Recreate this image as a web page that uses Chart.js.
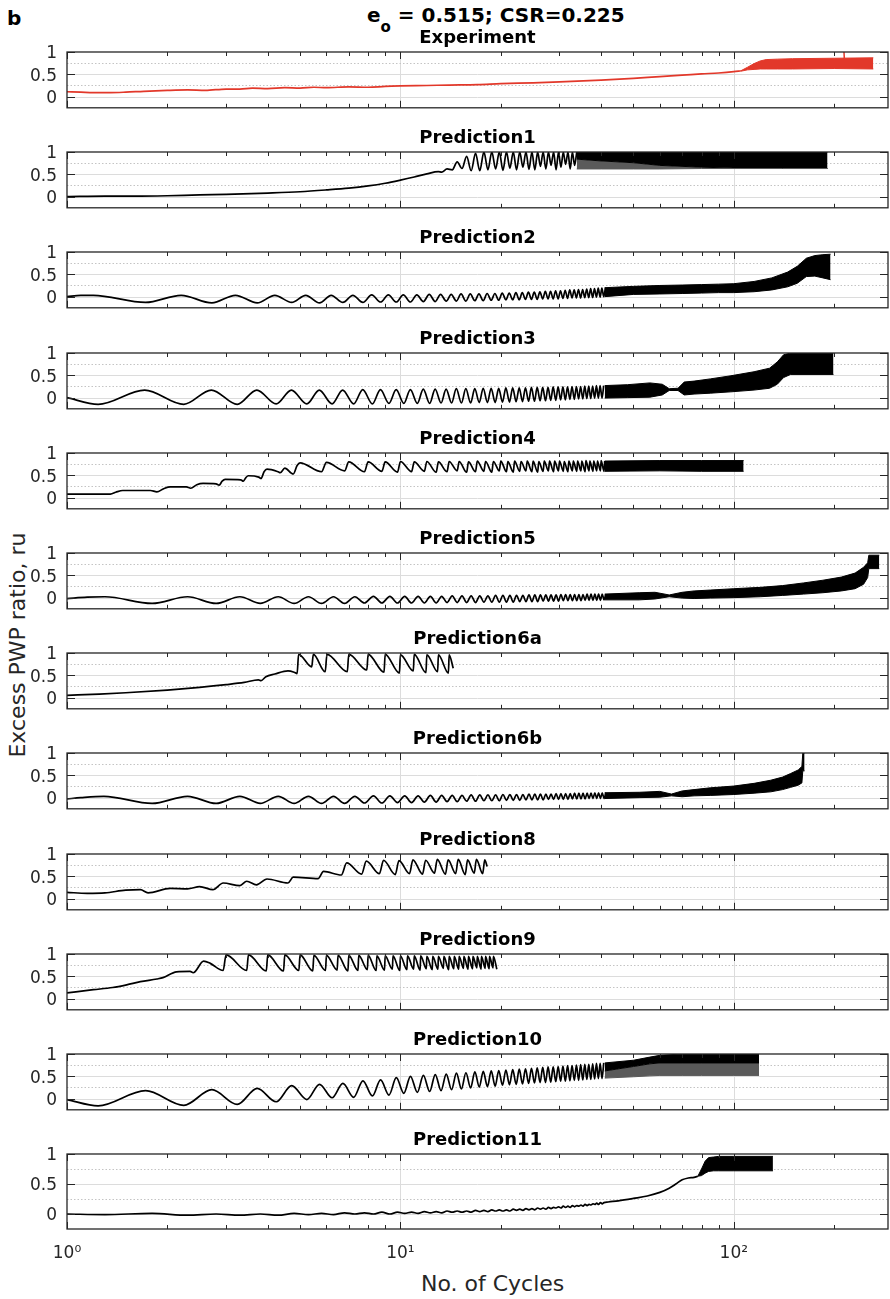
<!DOCTYPE html>
<html>
<head>
<meta charset="utf-8">
<title>Excess PWP ratio - experiment and predictions</title>
<script src="https://cdn.jsdelivr.net/npm/chart.js@4.4.1/dist/chart.umd.min.js"></script>
<style>
  body { margin: 0; background: #fff; }
  #figure {
    position: relative;
    width: 890px;
    height: 1299px;
    overflow: hidden;
    font-family: "DejaVu Sans", sans-serif;
    color: #000;
  }
  #figure canvas { position: absolute; left: 0; }
  .label { position: absolute; white-space: nowrap; line-height: 20px; }
  #panel-letter { left: 7px; top: 8px; font-size: 20px; font-weight: bold; }
  #main-title { left: 367px; top: 5px; font-size: 20px; font-weight: bold; }
  #main-title .sub { font-size: 15px; position: relative; top: 10px; }
  #y-label {
    left: -182px; top: 635px; width: 400px; text-align: center;
    font-size: 22px; color: #262626; transform: rotate(-90deg);
  }
  #x-label { left: 421px; top: 1274px; font-size: 22px; color: #262626; }
</style>
</head>
<body>
<div id="figure">
  <div class="label" id="panel-letter">b</div>
  <div class="label" id="main-title">e<span class="sub">o</span> = 0.515; CSR=0.225</div>
  <div class="label" id="y-label">Excess PWP ratio, ru</div>
  <div class="label" id="x-label">No. of Cycles</div>
</div>
<script>
// Axis settings shared by every panel
const xMax = 290;
const yMin = -0.25;
const yMax = 1;
const xTickValues = [1, 10, 100];
const xTickLabels = ["10\u2070", "10\u00b9", "10\u00b2"];
const yTickValues = [0, 0.5, 1];
const yMinorValues = [0.25, 0.75];

const panelTitles = [
  "Experiment", "Prediction1", "Prediction2", "Prediction3", "Prediction4",
  "Prediction5", "Prediction6a", "Prediction6b", "Prediction8",
  "Prediction9", "Prediction10", "Prediction11",
];

// Experiment (measured ru)
const expTrendX = [1, 1.1, 1.2, 1.35, 1.5, 1.7, 2, 2.3, 2.6, 3, 3.3, 3.6, 4, 4.5, 5, 5.5, 6, 7, 8, 9, 10, 12, 14, 17, 20, 25, 30, 40, 50, 60, 70, 80, 90, 100, 105];
const expTrendY = [0.11, 0.1, 0.09, 0.09, 0.1, 0.12, 0.14, 0.15, 0.14, 0.17, 0.17, 0.19, 0.18, 0.2, 0.19, 0.21, 0.2, 0.22, 0.21, 0.23, 0.24, 0.25, 0.26, 0.27, 0.29, 0.31, 0.33, 0.37, 0.41, 0.45, 0.48, 0.51, 0.53, 0.56, 0.58];
const expBandX = [105, 110, 115, 120, 125, 135, 150, 200, 262];
const expBandLo = [0.57, 0.6, 0.61, 0.62, 0.62, 0.62, 0.62, 0.63, 0.62];
const expBandHi = [0.58, 0.66, 0.74, 0.8, 0.83, 0.84, 0.85, 0.86, 0.87];
const expSpikeX = [213, 214, 215];
const expSpikeY = [0.85, 1.0, 0.85];

// Prediction1
const p1TrendX = [1, 1.3, 1.6, 2, 2.5, 3, 4, 5, 6, 7, 8, 9, 10, 11, 12, 13];
const p1TrendY = [0, 0.01, 0.01, 0.02, 0.04, 0.05, 0.08, 0.11, 0.15, 0.19, 0.24, 0.3, 0.37, 0.44, 0.51, 0.56];
const p1Trough = [0.55, 0.6, 0.63, 0.58, 0.58, 0.6, 0.62, 0.59, 0.64, 0.6, 0.66, 0.61, 0.6, 0.68, 0.62, 0.7, 0.6, 0.66, 0.72, 0.62, 0.7];
const p1Peak = [0.62, 0.78, 0.9, 0.97, 1, 1, 1, 1, 1, 1, 1, 1, 1, 1, 1, 1, 1, 1, 1, 1, 1];
const p1BandX = [33.8, 40, 50, 60, 80, 100, 140, 191];
const p1BandLo = [0.62, 0.62, 0.62, 0.62, 0.63, 0.63, 0.63, 0.63];
const p1BandMid = [0.84, 0.8, 0.76, 0.7, 0.66, 0.64, 0.63, 0.63];
const p1BandHi = [1, 1, 1, 1, 1, 1, 1, 1];

// Prediction2
const p2TrendX = [1, 1.1, 1.2];
const p2TrendY = [0, 0.03, 0.03];
const p2Trough = [-0.13, -0.14, -0.14, -0.13, -0.14, -0.13, -0.13, -0.12, -0.12, -0.12, -0.11, -0.11, -0.1, -0.1, -0.1, -0.09, -0.09, -0.08, -0.08, -0.07, -0.07, -0.07, -0.06, -0.06, -0.06, -0.05, -0.05, -0.05, -0.05, -0.04, -0.04, -0.03, -0.03, -0.03, -0.02, -0.02, -0.02, -0.01, -0.01, 0];
const p2Peak = [0.03, 0.03, 0.03, 0.03, 0.03, 0.03, 0.04, 0.04, 0.04, 0.04, 0.05, 0.05, 0.05, 0.06, 0.06, 0.06, 0.07, 0.07, 0.08, 0.08, 0.09, 0.09, 0.1, 0.1, 0.11, 0.12, 0.12, 0.13, 0.13, 0.14, 0.15, 0.15, 0.16, 0.16, 0.17, 0.18, 0.18, 0.19, 0.19, 0.2];
const p2BandX = [41, 50, 60, 70, 80, 90, 100, 115, 130, 145, 155, 165, 175, 185, 195];
const p2BandLo = [0, 0.05, 0.06, 0.07, 0.08, 0.09, 0.09, 0.11, 0.15, 0.22, 0.3, 0.45, 0.46, 0.42, 0.38];
const p2BandHi = [0.2, 0.23, 0.25, 0.26, 0.27, 0.28, 0.29, 0.34, 0.42, 0.55, 0.68, 0.86, 0.92, 0.94, 0.95];

// Prediction3
const p3TrendX = [1];
const p3TrendY = [0];
const p3Trough = [-0.15, -0.15, -0.15, -0.14, -0.14, -0.14, -0.14, -0.14, -0.13, -0.13, -0.13, -0.13, -0.12, -0.12, -0.12, -0.12, -0.11, -0.11, -0.11, -0.1, -0.1, -0.09, -0.09, -0.08, -0.08, -0.07, -0.07, -0.06, -0.06, -0.05, -0.05, -0.04, -0.04, -0.03, -0.03, -0.02, -0.02, -0.01, -0.01, -0.01];
const p3Peak = [0.17, 0.17, 0.17, 0.17, 0.17, 0.17, 0.18, 0.18, 0.18, 0.18, 0.19, 0.19, 0.19, 0.2, 0.2, 0.2, 0.21, 0.21, 0.21, 0.22, 0.22, 0.22, 0.22, 0.23, 0.23, 0.23, 0.23, 0.24, 0.24, 0.24, 0.24, 0.25, 0.25, 0.25, 0.26, 0.26, 0.26, 0.27, 0.27, 0.27];
const p3BandX = [41, 48, 56, 61, 64, 68, 71, 76, 85, 98, 115, 128, 135, 141, 148, 199];
const p3BandLo = [-0.01, 0, 0.01, 0.06, 0.16, 0.16, 0.06, 0.08, 0.1, 0.13, 0.17, 0.21, 0.3, 0.45, 0.52, 0.52];
const p3BandHi = [0.27, 0.29, 0.33, 0.3, 0.2, 0.21, 0.35, 0.37, 0.42, 0.49, 0.58, 0.66, 0.8, 0.96, 1, 1];

// Prediction4 (stepwise build-up, then sawtooth)
const p4TrendX = [1, 1.35, 1.4, 1.47, 1.78, 1.86, 1.95, 2.04, 2.28, 2.35, 2.45, 2.56, 2.8, 2.86, 2.92, 2.98, 3.32, 3.38, 3.44, 3.5, 3.76, 3.82, 3.9, 3.98, 4.3, 4.36, 4.5, 4.77, 4.9, 5];
const p4TrendY = [0.08, 0.08, 0.12, 0.16, 0.16, 0.13, 0.2, 0.24, 0.24, 0.21, 0.29, 0.32, 0.31, 0.28, 0.37, 0.41, 0.4, 0.37, 0.45, 0.49, 0.46, 0.43, 0.58, 0.64, 0.58, 0.56, 0.66, 0.53, 0.72, 0.78];
const p4Trough = [0.58, 0.6, 0.58, 0.59, 0.57, 0.58, 0.59, 0.57, 0.58, 0.6, 0.57, 0.58, 0.59, 0.57, 0.6, 0.58, 0.57, 0.59, 0.6, 0.58, 0.57, 0.59, 0.6, 0.58, 0.6, 0.59, 0.58, 0.6, 0.59, 0.6, 0.58, 0.6, 0.59, 0.6, 0.6, 0.59];
const p4Peak = [0.79, 0.8, 0.8, 0.8, 0.81, 0.8, 0.81, 0.8, 0.81, 0.81, 0.8, 0.82, 0.81, 0.81, 0.82, 0.81, 0.82, 0.81, 0.82, 0.82, 0.81, 0.82, 0.82, 0.82, 0.82, 0.81, 0.82, 0.82, 0.82, 0.82, 0.83, 0.82, 0.82, 0.82, 0.83, 0.82];
const p4BandX = [41, 60, 80, 107];
const p4BandLo = [0.59, 0.6, 0.59, 0.59];
const p4BandHi = [0.82, 0.83, 0.83, 0.83];

// Prediction5
const p5TrendX = [1, 1.15, 1.3];
const p5TrendY = [-0.02, 0.01, 0.02];
const p5Trough = [-0.13, -0.13, -0.13, -0.13, -0.13, -0.13, -0.12, -0.12, -0.12, -0.12, -0.12, -0.12, -0.11, -0.11, -0.11, -0.11, -0.1, -0.1, -0.1, -0.1, -0.1, -0.09, -0.09, -0.09, -0.09, -0.08, -0.08, -0.08, -0.08, -0.07, -0.07, -0.07, -0.07, -0.07, -0.06, -0.06, -0.06, -0.06, -0.06, -0.05];
const p5Peak = [0.02, 0.02, 0.02, 0.02, 0.02, 0.02, 0.03, 0.03, 0.03, 0.03, 0.03, 0.03, 0.04, 0.04, 0.04, 0.04, 0.04, 0.05, 0.05, 0.05, 0.05, 0.05, 0.06, 0.06, 0.06, 0.06, 0.06, 0.06, 0.07, 0.07, 0.07, 0.07, 0.07, 0.07, 0.08, 0.08, 0.08, 0.08, 0.08, 0.08];
const p5BandX = [41, 52, 58, 64, 70, 76, 85, 100, 120, 140, 162, 185, 210, 231, 245, 252, 254, 273];
const p5BandLo = [-0.05, -0.05, -0.03, 0.02, -0.01, -0.02, -0.01, 0, 0.02, 0.05, 0.08, 0.11, 0.15, 0.2, 0.3, 0.45, 0.65, 0.65];
const p5BandHi = [0.08, 0.11, 0.12, 0.06, 0.12, 0.15, 0.17, 0.2, 0.23, 0.27, 0.33, 0.39, 0.46, 0.55, 0.68, 0.78, 0.95, 0.95];

// Prediction6a
const p6aTrendX = [1, 1.25, 1.5, 2, 2.5, 3, 3.4, 3.75, 3.82, 3.95, 4.2, 4.6, 4.8, 4.9, 4.95, 5.42, 5.48, 5.95, 6.02];
const p6aTrendY = [0.05, 0.08, 0.11, 0.17, 0.23, 0.29, 0.34, 0.4, 0.38, 0.47, 0.53, 0.6, 0.57, 0.54, 0.97, 0.69, 0.97, 0.58, 0.97];
const p6aTrough = [0.58, 0.62, 0.57, 0.55, 0.6, 0.56, 0.58, 0.55];
const p6aPeak = [0.97, 0.97, 0.97, 0.96, 0.97, 0.96, 0.96, 0.96];
const p6aTailX = [14.4];
const p6aTailY = [0.66];

// Prediction6b
const p6bTrendX = [1, 1.1, 1.29];
const p6bTrendY = [-0.03, 0, 0.03];
const p6bTrough = [-0.13, -0.13, -0.13, -0.13, -0.13, -0.13, -0.12, -0.12, -0.11, -0.11, -0.1, -0.1, -0.09, -0.09, -0.08, -0.08, -0.07, -0.07, -0.07, -0.06, -0.06, -0.06, -0.05, -0.05, -0.05, -0.05, -0.04, -0.04, -0.04, -0.04, -0.04, -0.03, -0.03, -0.03, -0.03, -0.02, -0.02, -0.02, -0.02, -0.02];
const p6bPeak = [0.03, 0.03, 0.03, 0.03, 0.03, 0.03, 0.04, 0.04, 0.04, 0.04, 0.05, 0.05, 0.05, 0.05, 0.06, 0.06, 0.06, 0.06, 0.07, 0.07, 0.07, 0.07, 0.08, 0.08, 0.08, 0.08, 0.08, 0.09, 0.09, 0.09, 0.09, 0.1, 0.1, 0.1, 0.1, 0.1, 0.11, 0.11, 0.11, 0.11];
const p6bBandX = [41, 52, 60, 65, 70, 76, 85, 100, 115, 129, 140, 148, 156, 160, 161, 163];
const p6bBandLo = [-0.02, 0, 0.01, 0.04, 0.02, 0.04, 0.05, 0.07, 0.1, 0.13, 0.18, 0.23, 0.28, 0.33, 0.6, 0.6];
const p6bBandHi = [0.11, 0.12, 0.14, 0.08, 0.15, 0.18, 0.22, 0.26, 0.32, 0.39, 0.46, 0.54, 0.62, 0.7, 1, 1];

// Prediction8
const p8TrendX = [1, 1.15, 1.3, 1.5, 1.66, 1.75, 2.04, 2.3, 2.5, 2.74, 2.94, 3.3, 3.46, 3.7, 3.98, 4.6, 4.77, 5.67, 5.88, 6.65, 6.9];
const p8TrendY = [0.14, 0.12, 0.13, 0.19, 0.2, 0.13, 0.23, 0.22, 0.27, 0.2, 0.35, 0.29, 0.39, 0.31, 0.44, 0.35, 0.48, 0.45, 0.61, 0.53, 0.8];
const p8Trough = [0.55, 0.56, 0.54, 0.56, 0.55, 0.57, 0.55, 0.56, 0.54, 0.57, 0.56];
const p8Peak = [0.84, 0.86, 0.85, 0.87, 0.86, 0.88, 0.87, 0.88, 0.87, 0.88, 0.87];
const p8TailX = [18.2];
const p8TailY = [0.72];

// Prediction9 (two teeth per cycle)
const p9TrendX = [1, 1.2, 1.37, 1.51, 1.66, 1.86, 1.94, 2.13, 2.34, 2.39, 2.57, 2.69, 2.94];
const p9TrendY = [0.13, 0.2, 0.25, 0.31, 0.38, 0.44, 0.47, 0.6, 0.61, 0.58, 0.84, 0.79, 0.63];
const p9Peak = [0.98, 0.98, 0.98, 0.98, 0.98, 0.97, 0.97, 0.97, 0.97, 0.97, 0.97, 0.96, 0.96, 0.96, 0.96, 0.96, 0.96, 0.96, 0.95, 0.95, 0.95, 0.95, 0.95, 0.95, 0.95, 0.95, 0.95, 0.95, 0.95, 0.95, 0.95, 0.95, 0.95];
const p9Trough = [0.63, 0.62, 0.62, 0.63, 0.62, 0.63, 0.64, 0.62, 0.63, 0.65, 0.63, 0.64, 0.66, 0.63, 0.65, 0.66, 0.64, 0.67, 0.65, 0.66, 0.68, 0.65, 0.67, 0.66, 0.68, 0.66, 0.67, 0.69, 0.66, 0.68, 0.67, 0.69, 0.66];

// Prediction10
const p10TrendX = [1];
const p10TrendY = [-0.02];
const p10Trough = [-0.16, -0.15, -0.13, -0.07, -0.02, 0.02, 0.03, 0.06, 0.08, 0.12, 0.14, 0.16, 0.18, 0.2, 0.22, 0.24, 0.26, 0.27, 0.28, 0.3, 0.31, 0.32, 0.33, 0.34, 0.35, 0.36, 0.36, 0.37, 0.38, 0.39, 0.39, 0.4, 0.41, 0.41, 0.42, 0.43, 0.43, 0.44, 0.45, 0.45];
const p10Peak = [0.18, 0.2, 0.23, 0.29, 0.32, 0.34, 0.4, 0.42, 0.47, 0.5, 0.52, 0.54, 0.55, 0.57, 0.58, 0.6, 0.61, 0.62, 0.63, 0.64, 0.65, 0.66, 0.67, 0.68, 0.69, 0.7, 0.71, 0.71, 0.72, 0.73, 0.74, 0.74, 0.75, 0.76, 0.77, 0.77, 0.78, 0.79, 0.79, 0.8];
const p10BandX = [41, 50, 56, 60, 70, 80, 100, 119];
const p10BandLo = [0.46, 0.49, 0.51, 0.52, 0.52, 0.52, 0.52, 0.52];
const p10BandMid = [0.62, 0.72, 0.78, 0.8, 0.8, 0.8, 0.8, 0.8];
const p10BandHi = [0.8, 0.86, 0.93, 0.97, 1, 1, 1, 1];

// Prediction11
const p11TrendX = [1];
const p11TrendY = [0];
const p11Trough = [-0.01, -0.02, -0.02, -0.02, -0.01, -0.01, 0, 0, 0, 0.01, 0.01, 0.02, 0.02, 0.03, 0.03, 0.03, 0.04, 0.04, 0.05, 0.05, 0.05, 0.06, 0.06, 0.07, 0.07, 0.08, 0.08, 0.09, 0.1, 0.1, 0.11, 0.11, 0.12, 0.13, 0.13, 0.14, 0.15, 0.16, 0.16, 0.17];
const p11Peak = [0.01, 0, 0, 0.01, 0.01, 0.02, 0.02, 0.03, 0.03, 0.03, 0.04, 0.04, 0.05, 0.05, 0.05, 0.06, 0.06, 0.07, 0.07, 0.07, 0.08, 0.08, 0.09, 0.09, 0.1, 0.1, 0.11, 0.11, 0.12, 0.13, 0.13, 0.14, 0.14, 0.15, 0.16, 0.16, 0.17, 0.18, 0.19, 0.19];
const p11TailX = [42, 45, 50, 55, 60, 64, 67, 70, 73, 76, 78];
const p11TailY = [0.2, 0.22, 0.26, 0.3, 0.36, 0.43, 0.5, 0.57, 0.6, 0.61, 0.63];
const p11BandX = [78, 80, 82, 84, 87, 90, 100, 131];
const p11BandLo = [0.63, 0.64, 0.68, 0.71, 0.72, 0.72, 0.72, 0.72];
const p11BandHi = [0.63, 0.75, 0.88, 0.94, 0.95, 0.96, 0.96, 0.96];

// Colours
const expColor = "#e2382a";
const predColor = "#000000";
const looseColor = "#5a5a5a"; // partly filled area where single cycles still show
const axisColor = "#262626";
const FONT = "'DejaVu Sans', sans-serif";

// Helpers to turn the arrays into {x, y} points
function pairs(xs, ys) {
  return xs.map(function (x, i) {
    return { x: x, y: ys[i] };
  });
}

// one trough and one peak per loading cycle (or per half cycle)
function cycleSeries(first, troughPhase, peakPhase, troughs, peaks, period) {
  const step = period || 1;
  const pts = [];
  troughs.forEach(function (t, i) {
    const c = first + i * step;
    pts.push({ x: c + troughPhase, y: t });
    pts.push({ x: c + peakPhase, y: peaks[i] });
  });
  return pts.sort(function (a, b) {
    return a.x - b.x;
  });
}

const panels = [
  {
    color: expColor,
    line: pairs(expTrendX, expTrendY),
    band: { x: expBandX, lo: expBandLo, hi: expBandHi },
    extra: pairs(expSpikeX, expSpikeY),
  },
  {
    line: pairs(p1TrendX, p1TrendY).concat(cycleSeries(13, 0.3, 0.8, p1Trough, p1Peak)),
    band: { x: p1BandX, lo: p1BandLo, mid: p1BandMid, hi: p1BandHi },
  },
  {
    line: pairs(p2TrendX, p2TrendY).concat(cycleSeries(1, 0.72, 1.2, p2Trough, p2Peak)),
    band: { x: p2BandX, lo: p2BandLo, hi: p2BandHi },
  },
  {
    line: pairs(p3TrendX, p3TrendY).concat(cycleSeries(1, 0.24, 0.71, p3Trough, p3Peak)),
    band: { x: p3BandX, lo: p3BandLo, hi: p3BandHi },
  },
  {
    line: pairs(p4TrendX, p4TrendY).concat(cycleSeries(5, 0.8, 1.0, p4Trough, p4Peak)),
    band: { x: p4BandX, lo: p4BandLo, hi: p4BandHi },
  },
  {
    line: pairs(p5TrendX, p5TrendY).concat(cycleSeries(1, 0.8, 1.3, p5Trough, p5Peak)),
    band: { x: p5BandX, lo: p5BandLo, hi: p5BandHi },
  },
  {
    line: pairs(p6aTrendX, p6aTrendY)
      .concat(cycleSeries(6, 0.93, 1.0, p6aTrough, p6aPeak))
      .concat(pairs(p6aTailX, p6aTailY)),
  },
  {
    line: pairs(p6bTrendX, p6bTrendY).concat(cycleSeries(1, 0.8, 1.3, p6bTrough, p6bPeak)),
    band: { x: p6bBandX, lo: p6bBandLo, hi: p6bBandHi },
  },
  {
    line: pairs(p8TrendX, p8TrendY)
      .concat(cycleSeries(7, 0.65, 0.9, p8Trough, p8Peak))
      .concat(pairs(p8TailX, p8TailY)),
  },
  {
    line: pairs(p9TrendX, p9TrendY).concat(cycleSeries(3, 0.46, 0, p9Trough, p9Peak, 0.5)),
  },
  {
    line: pairs(p10TrendX, p10TrendY).concat(cycleSeries(1, 0.24, 0.72, p10Trough, p10Peak)),
    band: { x: p10BandX, lo: p10BandLo, mid: p10BandMid, hi: p10BandHi },
  },
  {
    line: pairs(p11TrendX, p11TrendY)
      .concat(cycleSeries(1, 0.3, 0.8, p11Trough, p11Peak))
      .concat(pairs(p11TailX, p11TailY)),
    band: { x: p11BandX, lo: p11BandLo, hi: p11BandHi },
  },
];

// Grid, box and inward ticks in the MATLAB style
function strokeLine(ctx, x1, y1, x2, y2) {
  ctx.beginPath();
  ctx.moveTo(x1, y1);
  ctx.lineTo(x2, y2);
  ctx.stroke();
}

function minorXValues() {
  const out = [];
  xTickValues.forEach(function (d) {
    for (let m = 2; m <= 9; m++) {
      if (d * m < xMax) out.push(d * m);
    }
  });
  return out;
}

const matlabAxes = {
  id: "matlabAxes",
  beforeDatasetsDraw: function (chart) {
    const ctx = chart.ctx;
    const a = chart.chartArea;
    const sx = chart.scales.x;
    const sy = chart.scales.y;
    ctx.save();
    ctx.lineWidth = 1;
    ctx.strokeStyle = "#dcdcdc";
    xTickValues.forEach(function (v) {
      const px = Math.round(sx.getPixelForValue(v)) + 0.5;
      if (px > a.left + 2) strokeLine(ctx, px, a.top, px, a.bottom);
    });
    yTickValues.forEach(function (v) {
      const py = Math.round(sy.getPixelForValue(v)) + 0.5;
      if (py > a.top + 2) strokeLine(ctx, a.left, py, a.right, py);
    });
    ctx.setLineDash([1.5, 2]);
    ctx.strokeStyle = "#c4c4c4";
    yMinorValues.forEach(function (v) {
      const py = Math.round(sy.getPixelForValue(v)) + 0.5;
      strokeLine(ctx, a.left, py, a.right, py);
    });
    ctx.restore();
  },
  afterDatasetsDraw: function (chart) {
    const ctx = chart.ctx;
    const a = chart.chartArea;
    const sx = chart.scales.x;
    const sy = chart.scales.y;
    ctx.save();
    ctx.strokeStyle = axisColor;
    ctx.lineWidth = 1.3;
    ctx.strokeRect(a.left, a.top, a.right - a.left, a.bottom - a.top);
    ctx.lineWidth = 1;
    xTickValues.forEach(function (v) {
      const px = Math.round(sx.getPixelForValue(v)) + 0.5;
      strokeLine(ctx, px, a.top, px, a.top + 7);
      strokeLine(ctx, px, a.bottom, px, a.bottom - 7);
    });
    minorXValues().forEach(function (v) {
      const px = Math.round(sx.getPixelForValue(v)) + 0.5;
      strokeLine(ctx, px, a.top, px, a.top + 4);
      strokeLine(ctx, px, a.bottom, px, a.bottom - 4);
    });
    yTickValues.forEach(function (v) {
      const py = Math.round(sy.getPixelForValue(v)) + 0.5;
      strokeLine(ctx, a.left, py, a.left + 8, py);
      strokeLine(ctx, a.right, py, a.right - 8, py);
    });
    ctx.restore();
  },
};

function bandDatasets(band, color) {
  const sets = [];
  sets.push({
    data: pairs(band.x, band.lo),
    borderColor: band.mid ? looseColor : color,
    borderWidth: 1,
    fill: false,
  });
  if (band.mid) {
    sets.push({
      data: pairs(band.x, band.mid),
      borderColor: color,
      borderWidth: 1,
      backgroundColor: looseColor,
      fill: "-1",
    });
  }
  sets.push({
    data: pairs(band.x, band.hi),
    borderColor: color,
    borderWidth: 1,
    backgroundColor: color,
    fill: "-1",
  });
  return sets;
}

Chart.defaults.font.family = FONT;
Chart.defaults.elements.point.radius = 0;

const figure = document.getElementById("figure");
const TITLE_H = 25;
const BOX_H = 75;
const AXIS_H = 50;

panels.forEach(function (panel, k) {
  const isLast = k === panels.length - 1;
  const color = panel.color || predColor;
  const boxTop = Math.round(52 + 100.2 * k);

  const canvas = document.createElement("canvas");
  canvas.width = 890;
  canvas.height = TITLE_H + BOX_H + (isLast ? AXIS_H : 1);
  canvas.style.top = boxTop - TITLE_H + "px";
  figure.appendChild(canvas);

  const datasets = [];
  if (panel.band) bandDatasets(panel.band, color).forEach(function (d) { datasets.push(d); });
  datasets.push({
    data: panel.line,
    borderColor: color,
    borderWidth: 1.7,
    fill: false,
    cubicInterpolationMode: "monotone",
  });
  if (panel.extra) {
    datasets.push({ data: panel.extra, borderColor: color, borderWidth: 1, fill: false });
  }

  new Chart(canvas, {
    type: "line",
    data: { datasets: datasets },
    options: {
      responsive: false,
      animation: false,
      devicePixelRatio: 1,
      events: [],
      layout: { padding: { left: 0, right: 2, top: 0, bottom: isLast ? 0 : 1 } },
      plugins: {
        legend: { display: false },
        tooltip: { enabled: false },
        title: {
          display: true,
          text: panelTitles[k],
          fullSize: false,
          color: "#000",
          font: { family: FONT, size: 18, weight: "bold", lineHeight: "22px" },
          padding: { top: 0, bottom: 3 },
        },
      },
      scales: {
        x: {
          type: "logarithmic",
          min: 1,
          max: xMax,
          display: isLast,
          grid: { display: false, drawTicks: false },
          border: { display: false },
          afterBuildTicks: function (scale) {
            scale.ticks = xTickValues.map(function (v) { return { value: v }; });
          },
          afterFit: function (scale) {
            // only the bottom panel keeps room for the tick labels
            scale.height = isLast ? AXIS_H : 0;
          },
          ticks: {
            color: axisColor,
            font: { family: FONT, size: 17 },
            padding: 14,
            maxRotation: 0,
            autoSkip: false,
            callback: function (value, index) {
              return xTickLabels[index];
            },
          },
        },
        y: {
          min: yMin,
          max: yMax,
          grid: { display: false, drawTicks: false },
          border: { display: false },
          afterBuildTicks: function (scale) {
            scale.ticks = yTickValues.map(function (v) { return { value: v }; });
          },
          afterFit: function (scale) {
            scale.width = 67;
          },
          ticks: {
            color: axisColor,
            font: { family: FONT, size: 17 },
            padding: 10,
            labelOffset: 2,
            callback: function (value) {
              return String(value);
            },
          },
        },
      },
    },
    plugins: [matlabAxes],
  });
});
</script>
</body>
</html>
